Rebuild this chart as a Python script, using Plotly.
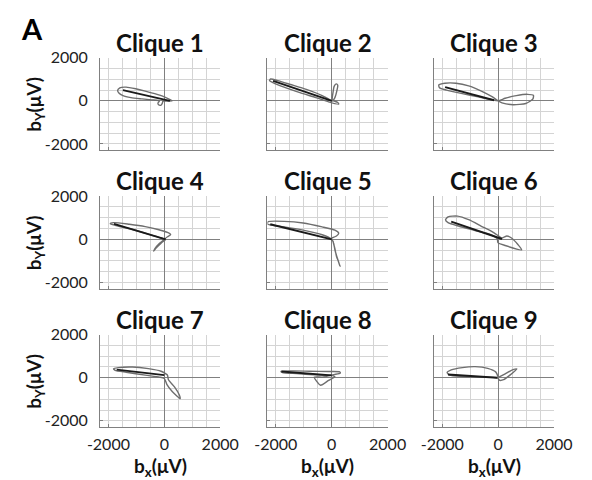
import plotly.graph_objects as go

# ---------------- data (µV) ----------------
titles = ["Clique 1", "Clique 2", "Clique 3", "Clique 4", "Clique 5",
          "Clique 6", "Clique 7", "Clique 8", "Clique 9"]

c1_loop_x = [284, 0, -341, -682, -1023, -1364, -1591, -1670, -1625, -1477, -1193, -795, -455, -170, -227, -205, -114, -68, -45, 284]
c1_loop_y = [0, 182, 333, 455, 561, 636, 606, 485, 364, 242, 152, 91, 45, 0, -106, -182, -197, -106, -15, 0]
c1_dark_x = [-1480, 200]
c1_dark_y = [500, 0]

c2_loop_x = [0, -341, -909, -1477, -1932, -2182, -2227, -2102, -1704, -1136, -568, -114, 250, 205, 23, 45, 91, 159, 216, 182, 114, 23]
c2_loop_y = [0, 242, 530, 758, 939, 1015, 939, 848, 636, 379, 152, -45, -152, -61, 30, 379, 682, 788, 727, 455, 152, -30]
c2_dark_x = [-2100, 0]
c2_dark_y = [930, 0]

c3_loop_x = [0, -205, -602, -1057, -1511, -1909, -2125, -2102, -1852, -1284, -716, -261, 0, 250, 648, 1045, 1261, 1238, 988, 534, 136, 0]
c3_loop_y = [0, 182, 455, 697, 818, 818, 742, 606, 500, 333, 182, 61, 0, 121, 242, 303, 258, 76, -121, -182, -91, 0]
c3_dark_x = [-1900, -148]
c3_dark_y = [636, 30]

c4_loop_x = [0, 114, 227, 114, -227, -682, -1250, -1818, -1932, -1761, -1136, -568, -114, 0, -170, -341, -375, -284, -114, 57]
c4_loop_y = [0, 121, 212, 318, 455, 591, 697, 773, 727, 652, 455, 242, 61, 0, -182, -439, -545, -394, -182, 0]
c4_dark_x = [-1800, 50]
c4_dark_y = [720, 0]

c5_loop_x = [0, 170, 250, 114, -341, -1023, -1704, -2273, -2306, -2215, -1704, -1023, -341, 0, 68, 114, 205, 295, 250, 170, 114, 45]
c5_loop_y = [61, 152, 288, 424, 576, 758, 833, 818, 727, 667, 576, 424, 212, 0, -182, -485, -894, -1242, -1061, -788, -439, -91]
c5_dark_x = [-2200, 0]
c5_dark_y = [700, 0]

c6_loop_x = [136, -148, -602, -1057, -1454, -1795, -1886, -1795, -1398, -829, -261, -34, -11, 250, 841, 705, 477, 307, 136]
c6_loop_y = [61, 303, 606, 909, 1076, 1045, 909, 773, 606, 409, 212, 30, -152, -288, -485, -242, 61, 152, 61]
c6_dark_x = [-1681, 136]
c6_dark_y = [818, 15]

c7_loop_x = [57, -114, -568, -1136, -1648, -1818, -1761, -1364, -682, -170, 0, 91, 284, 568, 534, 364, 148, 114, 57]
c7_loop_y = [182, 303, 424, 500, 470, 409, 348, 258, 121, 30, -30, -303, -636, -970, -788, -424, -91, 121, 182]
c7_dark_x = [-1704, 0]
c7_dark_y = [379, 121]

c8_loop_x = [0, 307, 284, -114, -795, -1364, -1818, -1761, -1250, -625, -170, 0, -341, -625, -398, -114, 114, 0]
c8_loop_y = [121, 212, 273, 288, 303, 318, 303, 242, 197, 136, 106, 121, 30, 30, -348, -121, 45, 121]
c8_dark_x = [-1800, 0]
c8_dark_y = [290, 110]

c9_loop_x = [0, -91, -375, -829, -1284, -1682, -1829, -1738, -1284, -716, -34, 57, 193, 420, 670, 534, 250, 23]
c9_loop_y = [30, 273, 439, 515, 470, 364, 242, 121, 61, 30, 0, -121, -91, 121, 409, 379, 182, 30]
c9_dark_x = [-1795, -34]
c9_dark_y = [152, 0]

tick_vals = [-2000, 0, 2000]
tick_text = ["-2000", "0", "2000"]
axis_range = [-2300, 2000]

loops = [(c1_loop_x, c1_loop_y, c1_dark_x, c1_dark_y),
         (c2_loop_x, c2_loop_y, c2_dark_x, c2_dark_y),
         (c3_loop_x, c3_loop_y, c3_dark_x, c3_dark_y),
         (c4_loop_x, c4_loop_y, c4_dark_x, c4_dark_y),
         (c5_loop_x, c5_loop_y, c5_dark_x, c5_dark_y),
         (c6_loop_x, c6_loop_y, c6_dark_x, c6_dark_y),
         (c7_loop_x, c7_loop_y, c7_dark_x, c7_dark_y),
         (c8_loop_x, c8_loop_y, c8_dark_x, c8_dark_y),
         (c9_loop_x, c9_loop_y, c9_dark_x, c9_dark_y)]

# ---------------- layout geometry (pixels) ----------------
W, H = 592, 480
col_px = [(92, 219), (269, 396), (445, 572)]
row_px = [(49, 144), (191, 286), (333, 428)]

FONT = "Lato"
GRID = "#d4d4d4"
AXC = "#808080"

fig = go.Figure()
annotations = []

for i, (lx, ly, dx, dy) in enumerate(loops):
    r, c = divmod(i, 3)
    n = i + 1
    xa = "x" if n == 1 else f"x{n}"
    ya = "y" if n == 1 else f"y{n}"
    fig.add_trace(go.Scatter(x=lx, y=ly, mode="lines", xaxis=xa, yaxis=ya,
                             line=dict(color="#6e6e6e", width=1.4, shape="spline", smoothing=0.6),
                             showlegend=False, hoverinfo="skip"))
    fig.add_trace(go.Scatter(x=dx, y=dy, mode="lines", xaxis=xa, yaxis=ya,
                             line=dict(color="#1a1a1a", width=1.9),
                             showlegend=False, hoverinfo="skip"))
    x0, x1 = col_px[c]
    y0, y1 = row_px[r]
    common = dict(range=axis_range, tickmode="array", tickvals=tick_vals, ticktext=tick_text,
                  ticks="inside", ticklen=3, tickcolor=AXC, tickwidth=1,
                  showgrid=True, gridcolor=GRID, gridwidth=1,
                  minor=dict(dtick=500, tick0=0, showgrid=True, gridcolor=GRID, gridwidth=1, ticks=""),
                  zeroline=True, zerolinecolor=AXC, zerolinewidth=1,
                  showline=True, linecolor=AXC, linewidth=1, mirror=False,
                  fixedrange=True,
                  tickfont=dict(family=FONT, size=16, color="#222222"))
    xkey = "xaxis" if n == 1 else f"xaxis{n}"
    ykey = "yaxis" if n == 1 else f"yaxis{n}"
    fig.layout[xkey] = dict(common, domain=[x0 / W, x1 / W], anchor=ya,
                            showticklabels=(r == 2), ticklabelstandoff=2)
    fig.layout[ykey] = dict(common, domain=[1 - y1 / H, 1 - y0 / H], anchor=xa,
                            showticklabels=(c == 0), ticklabelstandoff=8)
    # panel title
    annotations.append(dict(text=f"<b>{titles[i]}</b>", x=(x0 + x1) / 2 / W, y=1 - (y0 - 16) / H,
                            xref="paper", yref="paper", showarrow=False,
                            xanchor="center", yanchor="middle",
                            font=dict(family=FONT, size=24, color="#111111")))

# axis titles
for r in range(3):
    y0, y1 = row_px[r]
    annotations.append(dict(text="<b>b<sub>Y</sub>(μV)</b>", x=23 / W, y=1 - ((y0 + y1) / 2) / H,
                            xref="paper", yref="paper", showarrow=False, textangle=-90,
                            xanchor="center", yanchor="middle",
                            font=dict(family=FONT, size=19, color="#111111")))
for c in range(3):
    x0, x1 = col_px[c]
    annotations.append(dict(text="<b>b<sub>x</sub>(μV)</b>", x=(x0 + x1) / 2 / W, y=1 - 469 / H,
                            xref="paper", yref="paper", showarrow=False,
                            xanchor="center", yanchor="middle",
                            font=dict(family=FONT, size=19, color="#111111")))

annotations.append(dict(text="<b>A</b>", x=20 / W, y=1 - 19 / H, xref="paper", yref="paper",
                        showarrow=False, xanchor="center", yanchor="middle",
                        font=dict(family=FONT, size=29, color="#000000")))

fig.update_layout(width=W, height=H, margin=dict(l=0, r=0, t=0, b=0),
                  paper_bgcolor="white", plot_bgcolor="white",
                  annotations=annotations, showlegend=False)

fig.write_html("out.html", config={"displayModeBar": False})
